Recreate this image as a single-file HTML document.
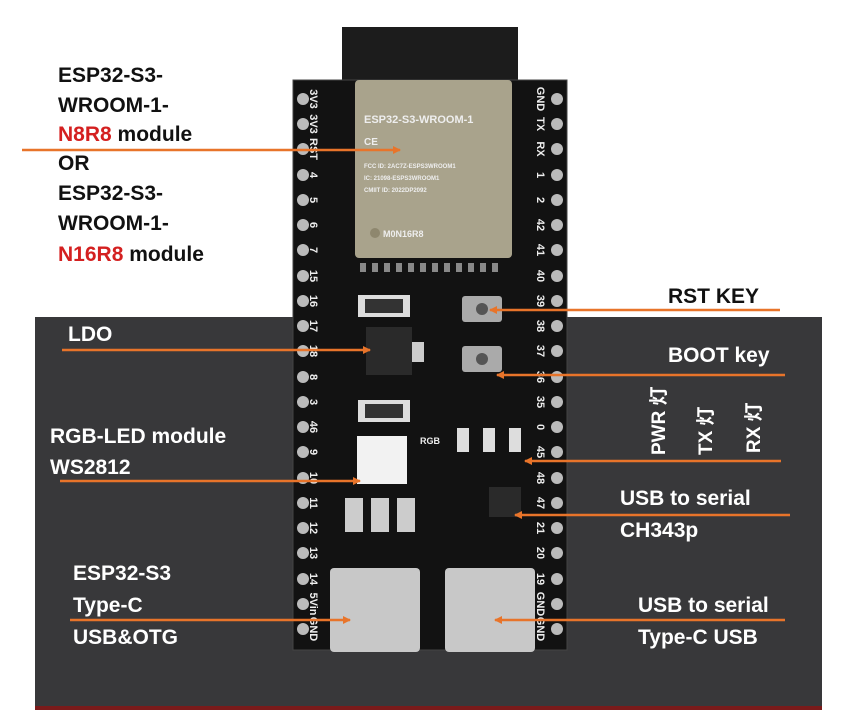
<!DOCTYPE html>
<html><head><meta charset="utf-8"><style>
html,body{margin:0;padding:0;background:#fff;}
svg{display:block;}
text{font-family:"Liberation Sans","Noto Sans CJK SC",sans-serif;font-weight:bold;}
</style></head><body>
<svg width="856" height="712" viewBox="0 0 856 712" xmlns="http://www.w3.org/2000/svg">
<defs>
<marker id="a" markerWidth="8" markerHeight="8" refX="7" refY="4" orient="auto" markerUnits="userSpaceOnUse"><path d="M0,0 L8,4 L0,8 z" fill="#e8742a"/></marker>
</defs>
<rect width="856" height="712" fill="#fff"/>
<rect x="35" y="317" width="787" height="390" fill="#38383a"/>
<rect x="35" y="706" width="787" height="4" fill="#7a1a1a"/>
<rect x="342" y="27" width="176" height="60" fill="#1c1c1c"/>
<rect x="293" y="80" width="274" height="570" fill="#121212" stroke="#444" stroke-width="1"/>
<rect x="355" y="80" width="157" height="178" rx="4" fill="#a9a38c"/>
<text x="364" y="123" font-size="11" font-weight="normal" fill="#eee">ESP32-S3-WROOM-1</text>
<text x="364" y="145" font-size="10" fill="#eee">CE</text>
<text x="364" y="168" font-size="6" fill="#eee">FCC ID: 2AC7Z-ESPS3WROOM1</text>
<text x="364" y="180" font-size="6" fill="#eee">IC: 21098-ESPS3WROOM1</text>
<text x="364" y="192" font-size="6" fill="#eee">CMIIT ID: 2022DP2092</text>
<circle cx="375" cy="233" r="5" fill="#8e876e"/>
<text x="383" y="237" font-size="9" fill="#eee">M0N16R8</text>
<g fill="#888">
<rect x="360" y="263" width="6" height="9"/><rect x="372" y="263" width="6" height="9"/><rect x="384" y="263" width="6" height="9"/><rect x="396" y="263" width="6" height="9"/><rect x="408" y="263" width="6" height="9"/><rect x="420" y="263" width="6" height="9"/><rect x="432" y="263" width="6" height="9"/><rect x="444" y="263" width="6" height="9"/><rect x="456" y="263" width="6" height="9"/><rect x="468" y="263" width="6" height="9"/><rect x="480" y="263" width="6" height="9"/><rect x="492" y="263" width="6" height="9"/>
</g>
<g fill="#bbb">
<circle cx="303" cy="99" r="6"/><circle cx="303" cy="124" r="6"/><circle cx="303" cy="149" r="6"/><circle cx="303" cy="175" r="6"/><circle cx="303" cy="200" r="6"/><circle cx="303" cy="225" r="6"/><circle cx="303" cy="250" r="6"/><circle cx="303" cy="276" r="6"/><circle cx="303" cy="301" r="6"/><circle cx="303" cy="326" r="6"/><circle cx="303" cy="351" r="6"/><circle cx="303" cy="377" r="6"/><circle cx="303" cy="402" r="6"/><circle cx="303" cy="427" r="6"/><circle cx="303" cy="452" r="6"/><circle cx="303" cy="478" r="6"/><circle cx="303" cy="503" r="6"/><circle cx="303" cy="528" r="6"/><circle cx="303" cy="553" r="6"/><circle cx="303" cy="579" r="6"/><circle cx="303" cy="604" r="6"/><circle cx="303" cy="629" r="6"/>
<circle cx="557" cy="99" r="6"/><circle cx="557" cy="124" r="6"/><circle cx="557" cy="149" r="6"/><circle cx="557" cy="175" r="6"/><circle cx="557" cy="200" r="6"/><circle cx="557" cy="225" r="6"/><circle cx="557" cy="250" r="6"/><circle cx="557" cy="276" r="6"/><circle cx="557" cy="301" r="6"/><circle cx="557" cy="326" r="6"/><circle cx="557" cy="351" r="6"/><circle cx="557" cy="377" r="6"/><circle cx="557" cy="402" r="6"/><circle cx="557" cy="427" r="6"/><circle cx="557" cy="452" r="6"/><circle cx="557" cy="478" r="6"/><circle cx="557" cy="503" r="6"/><circle cx="557" cy="528" r="6"/><circle cx="557" cy="553" r="6"/><circle cx="557" cy="579" r="6"/><circle cx="557" cy="604" r="6"/><circle cx="557" cy="629" r="6"/>
</g>
<g fill="#eee" font-size="11" text-anchor="middle">
<text transform="translate(314,99) rotate(90)" dy="4">3V3</text>
<text transform="translate(314,124) rotate(90)" dy="4">3V3</text>
<text transform="translate(314,149) rotate(90)" dy="4">RST</text>
<text transform="translate(314,175) rotate(90)" dy="4">4</text>
<text transform="translate(314,200) rotate(90)" dy="4">5</text>
<text transform="translate(314,225) rotate(90)" dy="4">6</text>
<text transform="translate(314,250) rotate(90)" dy="4">7</text>
<text transform="translate(314,276) rotate(90)" dy="4">15</text>
<text transform="translate(314,301) rotate(90)" dy="4">16</text>
<text transform="translate(314,326) rotate(90)" dy="4">17</text>
<text transform="translate(314,351) rotate(90)" dy="4">18</text>
<text transform="translate(314,377) rotate(90)" dy="4">8</text>
<text transform="translate(314,402) rotate(90)" dy="4">3</text>
<text transform="translate(314,427) rotate(90)" dy="4">46</text>
<text transform="translate(314,452) rotate(90)" dy="4">9</text>
<text transform="translate(314,478) rotate(90)" dy="4">10</text>
<text transform="translate(314,503) rotate(90)" dy="4">11</text>
<text transform="translate(314,528) rotate(90)" dy="4">12</text>
<text transform="translate(314,553) rotate(90)" dy="4">13</text>
<text transform="translate(314,579) rotate(90)" dy="4">14</text>
<text transform="translate(314,604) rotate(90)" dy="4">5Vin</text>
<text transform="translate(314,629) rotate(90)" dy="4">GND</text>
<text transform="translate(541,99) rotate(90)" dy="4">GND</text>
<text transform="translate(541,124) rotate(90)" dy="4">TX</text>
<text transform="translate(541,149) rotate(90)" dy="4">RX</text>
<text transform="translate(541,175) rotate(90)" dy="4">1</text>
<text transform="translate(541,200) rotate(90)" dy="4">2</text>
<text transform="translate(541,225) rotate(90)" dy="4">42</text>
<text transform="translate(541,250) rotate(90)" dy="4">41</text>
<text transform="translate(541,276) rotate(90)" dy="4">40</text>
<text transform="translate(541,301) rotate(90)" dy="4">39</text>
<text transform="translate(541,326) rotate(90)" dy="4">38</text>
<text transform="translate(541,351) rotate(90)" dy="4">37</text>
<text transform="translate(541,377) rotate(90)" dy="4">36</text>
<text transform="translate(541,402) rotate(90)" dy="4">35</text>
<text transform="translate(541,427) rotate(90)" dy="4">0</text>
<text transform="translate(541,452) rotate(90)" dy="4">45</text>
<text transform="translate(541,478) rotate(90)" dy="4">48</text>
<text transform="translate(541,503) rotate(90)" dy="4">47</text>
<text transform="translate(541,528) rotate(90)" dy="4">21</text>
<text transform="translate(541,553) rotate(90)" dy="4">20</text>
<text transform="translate(541,579) rotate(90)" dy="4">19</text>
<text transform="translate(541,604) rotate(90)" dy="4">GND</text>
<text transform="translate(541,629) rotate(90)" dy="4">GND</text>
</g>
<rect x="358" y="295" width="52" height="22" fill="#ddd"/><rect x="365" y="299" width="38" height="14" fill="#333"/>
<rect x="366" y="327" width="46" height="48" fill="#2a2a2a"/><rect x="412" y="342" width="12" height="20" fill="#ccc"/>
<rect x="358" y="400" width="52" height="22" fill="#ddd"/><rect x="365" y="404" width="38" height="14" fill="#333"/>
<rect x="357" y="436" width="50" height="48" fill="#f2f2f2"/>
<text x="420" y="444" font-size="9" fill="#eee">RGB</text>
<rect x="462" y="296" width="40" height="26" rx="3" fill="#aaa"/><circle cx="482" cy="309" r="6" fill="#555"/>
<rect x="462" y="346" width="40" height="26" rx="3" fill="#aaa"/><circle cx="482" cy="359" r="6" fill="#555"/>
<rect x="457" y="428" width="12" height="24" fill="#ddd"/><rect x="483" y="428" width="12" height="24" fill="#ddd"/><rect x="509" y="428" width="12" height="24" fill="#ddd"/>
<rect x="489" y="487" width="32" height="30" fill="#2a2a2a"/>
<rect x="345" y="498" width="18" height="34" fill="#ccc"/><rect x="371" y="498" width="18" height="34" fill="#ccc"/><rect x="397" y="498" width="18" height="34" fill="#ccc"/>
<rect x="330" y="568" width="90" height="84" rx="4" fill="#c8c8c8"/>
<rect x="445" y="568" width="90" height="84" rx="4" fill="#c8c8c8"/>
<g stroke="#e8742a" stroke-width="2.5" fill="none">
<line x1="22" y1="150" x2="400" y2="150" marker-end="url(#a)"/>
<line x1="780" y1="310" x2="490" y2="310" marker-end="url(#a)"/>
<line x1="62" y1="350" x2="370" y2="350" marker-end="url(#a)"/>
<line x1="785" y1="375" x2="497" y2="375" marker-end="url(#a)"/>
<line x1="781" y1="461" x2="525" y2="461" marker-end="url(#a)"/>
<line x1="60" y1="481" x2="360" y2="481" marker-end="url(#a)"/>
<line x1="790" y1="515" x2="515" y2="515" marker-end="url(#a)"/>
<line x1="70" y1="620" x2="350" y2="620" marker-end="url(#a)"/>
<line x1="785" y1="620" x2="495" y2="620" marker-end="url(#a)"/>
</g>
<g font-size="21" fill="#111">
<text x="58" y="82">ESP32-S3-</text>
<text x="58" y="112">WROOM-1-</text>
<text x="58" y="141"><tspan fill="#d42020">N8R8</tspan> module</text>
<text x="58" y="170">OR</text>
<text x="58" y="200">ESP32-S3-</text>
<text x="58" y="230">WROOM-1-</text>
<text x="58" y="261"><tspan fill="#d42020">N16R8</tspan> module</text>
<text x="668" y="303">RST KEY</text>
</g>
<g font-size="21" fill="#fff">
<text x="68" y="341">LDO</text>
<text x="668" y="362">BOOT key</text>
<text x="50" y="443">RGB-LED module</text>
<text x="50" y="474">WS2812</text>
<text x="620" y="505">USB to serial</text>
<text x="620" y="537">CH343p</text>
<text x="73" y="580">ESP32-S3</text>
<text x="73" y="612">Type-C</text>
<text x="73" y="644">USB&amp;OTG</text>
<text x="638" y="612">USB to serial</text>
<text x="638" y="644">Type-C USB</text>
</g>
<g font-size="19" fill="#fff">
<text transform="translate(665,455) rotate(-90)">PWR 灯</text>
<text transform="translate(712,455) rotate(-90)">TX 灯</text>
<text transform="translate(760,453) rotate(-90)">RX 灯</text>
</g>
</svg>
</body></html>
